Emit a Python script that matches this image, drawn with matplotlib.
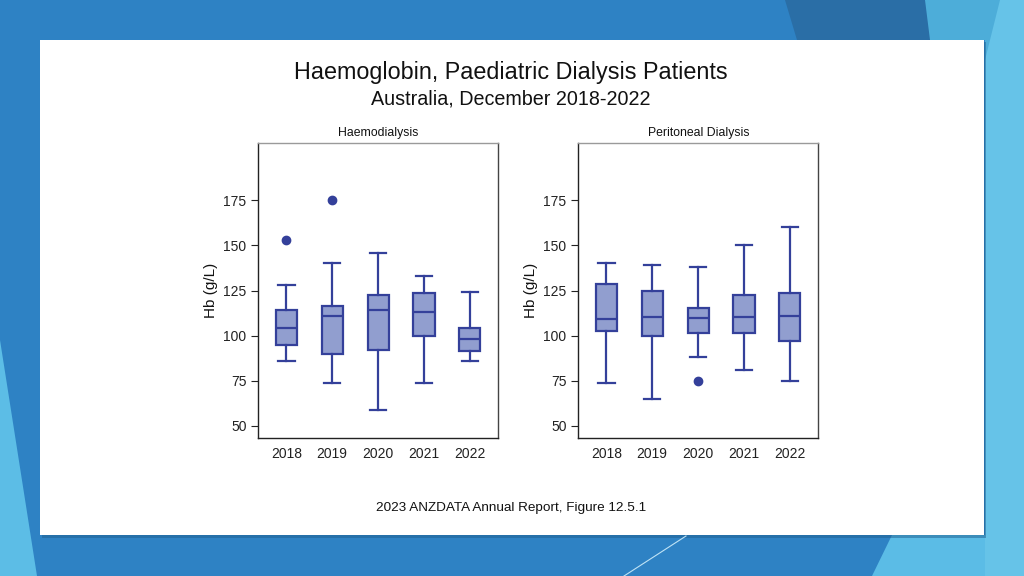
import matplotlib
matplotlib.use("Agg")
import matplotlib.pyplot as plt
from matplotlib.patches import Polygon, Rectangle
from matplotlib.lines import Line2D

years = ["2018", "2019", "2020", "2021", "2022"]

# Haemodialysis
hd_whislo = [86, 74, 59, 74, 86]
hd_q1 = [95, 90, 92, 100, 91.5]
hd_med = [104, 111, 114, 113, 98]
hd_q3 = [114.5, 116.5, 122.5, 123.5, 104.5]
hd_whishi = [128, 140, 146, 133, 124]
hd_fliers = [[153], [175], [], [], []]

# Peritoneal Dialysis
pd_whislo = [74, 65, 88, 81, 75]
pd_q1 = [102.5, 100, 101.5, 101.5, 97]
pd_med = [109, 110.5, 110, 110.5, 111]
pd_q3 = [128.5, 124.5, 115.5, 122.5, 123.5]
pd_whishi = [140, 139, 138, 150, 160]
pd_fliers = [[], [], [75], [], []]

panel_titles = ["Haemodialysis", "Peritoneal Dialysis"]
yticks = [50, 75, 100, 125, 150, 175]

W, H = 1024, 576
fig = plt.figure(figsize=(W / 100, H / 100), dpi=100)
fig.patch.set_facecolor("#2E82C4")

def fx(x):
    return x / W

def fy(y):
    return 1 - y / H

def poly(pts, color, z=0):
    fig.patches.append(Polygon([(fx(x), fy(y)) for x, y in pts], closed=True,
                               transform=fig.transFigure, facecolor=color,
                               edgecolor="none", zorder=z))

# background decorations
poly([(785, 0), (930, 0), (930, 40), (797, 40)], "#2A6EA6")
poly([(925, 0), (1024, 0), (1024, 576), (985, 576), (985, 40), (930, 40)], "#4DADD9")
poly([(1000, 0), (1024, 0), (1024, 576), (985, 576), (985, 60)], "#66C3E8")
poly([(892, 535), (985, 535), (985, 576), (872, 576)], "#5BBCE6")
poly([(0, 340), (0, 576), (37, 576)], "#5CBDE6")
fig.lines.append(Line2D([fx(686), fx(624)], [fy(536), fy(576)],
                        transform=fig.transFigure, color="#BFE3F5", lw=0.8))

# card shadow + card
fig.patches.append(Rectangle((fx(42), fy(538)), fx(944), (538 - 42) / H,
                             transform=fig.transFigure, facecolor="#1F5F90",
                             edgecolor="none", alpha=0.5, zorder=0.5))
fig.patches.append(Rectangle((fx(40), fy(535)), fx(944), (535 - 40) / H,
                             transform=fig.transFigure, facecolor="white",
                             edgecolor="none", zorder=1))

plt.rcParams["font.family"] = ["Liberation Sans", "DejaVu Sans"]

fig.text(fx(511), fy(72), "Haemoglobin, Paediatric Dialysis Patients",
         ha="center", va="center", fontsize=16.8, color="#111111", zorder=5)
fig.text(fx(511), fy(99), "Australia, December 2018-2022",
         ha="center", va="center", fontsize=14.2, color="#111111", zorder=5)
fig.text(fx(511), fy(508), "2023 ANZDATA Annual Report, Figure 12.5.1",
         ha="center", va="center", fontsize=9.7,
         family=["Liberation Sans Narrow", "Liberation Sans", "DejaVu Sans"],
         color="#111111", zorder=5)

box_face = "#919ECF"
line_col = "#34409A"

datasets = [
    (hd_whislo, hd_q1, hd_med, hd_q3, hd_whishi, hd_fliers),
    (pd_whislo, pd_q1, pd_med, pd_q3, pd_whishi, pd_fliers),
]
lefts = [258.3, 578.3]
for i, (wl, q1, med, q3, wh, fl) in enumerate(datasets):
    ax = fig.add_axes([fx(lefts[i]), fy(437.5), 240 / W, (437.5 - 142.7) / H])
    ax.set_zorder(3)
    stats = []
    for j in range(len(years)):
        stats.append(dict(whislo=wl[j], q1=q1[j], med=med[j], q3=q3[j],
                          whishi=wh[j], fliers=fl[j], label=years[j]))
    ax.bxp(stats, positions=range(1, len(years) + 1), widths=0.46,
           patch_artist=True, showfliers=True,
           boxprops=dict(facecolor=box_face, edgecolor=line_col, linewidth=1.6),
           medianprops=dict(color=line_col, linewidth=1.6),
           whiskerprops=dict(color=line_col, linewidth=1.6),
           capprops=dict(color=line_col, linewidth=1.6),
           capwidths=0.36,
           flierprops=dict(marker="o", markerfacecolor=line_col,
                           markeredgecolor=line_col, markersize=6))
    ax.set_xlim(0.39, 5.62)
    ax.set_ylim(43.6, 206.9)
    ax.set_yticks(yticks)
    ax.set_yticklabels([str(t) for t in yticks])
    ax.tick_params(axis="y", length=5, width=0.8, labelsize=10, colors="#222222")
    ax.tick_params(axis="x", length=0, labelsize=10, pad=7, colors="#222222")
    ax.set_ylabel("Hb (g/L)", fontsize=11, color="#111111", labelpad=4)
    ax.set_title(panel_titles[i], fontsize=8.8, color="#111111", pad=5)
    ax.spines["top"].set_color("#9A9A9A")
    ax.spines["right"].set_color("#444444")
    ax.spines["left"].set_color("#222222")
    ax.spines["bottom"].set_color("#222222")
    for s in ax.spines.values():
        s.set_linewidth(1.0)

fig.savefig("out.png", dpi=100, facecolor=fig.get_facecolor())
